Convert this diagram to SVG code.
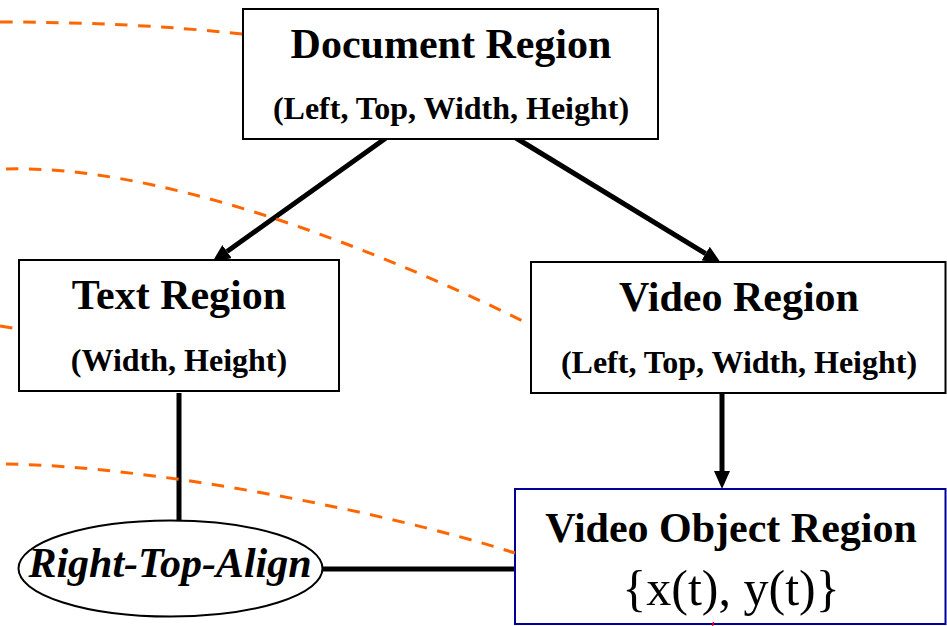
<svg xmlns="http://www.w3.org/2000/svg" width="947" height="626" viewBox="0 0 947 626">
  <defs>
    <style>
      .box { fill: #ffffff; stroke: #000000; stroke-width: 2; }
      .vbox { fill: #ffffff; stroke: #000099; stroke-width: 2; }
      .ell { fill: #ffffff; stroke: #000000; stroke-width: 2; }
      .title { font-family: "Liberation Serif", "Times New Roman", serif; font-weight: bold; font-size: 42px; fill: #000; text-anchor: middle; }
      .sub { font-family: "Liberation Serif", "Times New Roman", serif; font-weight: bold; font-size: 32px; fill: #000; text-anchor: middle; }
      .formula { font-family: "Liberation Serif", "Times New Roman", serif; font-size: 50px; fill: #000; text-anchor: middle; }
      .ital { font-family: "Liberation Serif", "Times New Roman", serif; font-weight: bold; font-style: italic; font-size: 42px; fill: #000; text-anchor: middle; }
      .conn { stroke: #000000; stroke-width: 5; fill: none; }
      .dash { stroke: #FF6600; stroke-width: 3; fill: none; stroke-dasharray: 12.5 10.5; }
    </style>
    <marker id="arrow" viewBox="0 -8 18 16" refX="0" refY="0" markerWidth="18" markerHeight="16" markerUnits="userSpaceOnUse" orient="auto">
      <path d="M0,-8 L18,0 L0,8 z" fill="#000000"/>
    </marker>
  </defs>
  <rect width="947" height="626" fill="#ffffff"/>

  <g id="connectors">
    <line class="conn" x1="386" y1="138" x2="227" y2="251.5" marker-end="url(#arrow)"/>
    <line class="conn" x1="516" y1="138" x2="705.6" y2="253.6" marker-end="url(#arrow)"/>
    <line class="conn" x1="722" y1="393" x2="722" y2="471" marker-end="url(#arrow)"/>
    <line class="conn" x1="179" y1="393" x2="179" y2="520"/>
    <line class="conn" x1="322" y1="569" x2="515" y2="569"/>
  </g>

  <g id="doc-region">
    <rect class="box" x="243" y="9" width="415" height="130"/>
    <text class="title" x="451" y="58">Document Region</text>
    <text class="sub" x="451" y="119">(Left, Top, Width, Height)</text>
  </g>

  <g id="text-region">
    <rect class="box" x="19" y="260" width="320" height="131"/>
    <text class="title" x="179" y="309">Text Region</text>
    <text class="sub" x="179" y="371">(Width, Height)</text>
  </g>

  <g id="video-region">
    <rect class="box" x="531" y="262" width="414.5" height="131"/>
    <text class="title" x="739" y="311">Video Region</text>
    <text class="sub" x="739" y="373">(Left, Top, Width, Height)</text>
  </g>

  <g id="video-object-region">
    <rect class="vbox" x="515" y="489" width="430.5" height="135"/>
    <text class="title" x="731" y="542">Video Object Region</text>
    <text class="formula" x="731" y="605">{x(t), y(t)}</text>
  </g>

  <g id="right-top-align">
    <ellipse class="ell" cx="170.5" cy="568.5" rx="152" ry="48"/>
    <text class="ital" x="170" y="577">Right-Top-Align</text>
  </g>

  <g id="dashed-curves">
    <path class="dash" d="M0,22 Q130,22 243,34"/>
    <path class="dash" d="M6,169 C150,165 350,236 529,324"/>
    <path class="dash" d="M0,326 L19,329"/>
    <path class="dash" d="M6,464 C150,466 380,510 515,553"/>
  </g>

  <line x1="713.5" y1="622" x2="712.5" y2="626" stroke="#ff0000" stroke-width="1.5"/>
</svg>
